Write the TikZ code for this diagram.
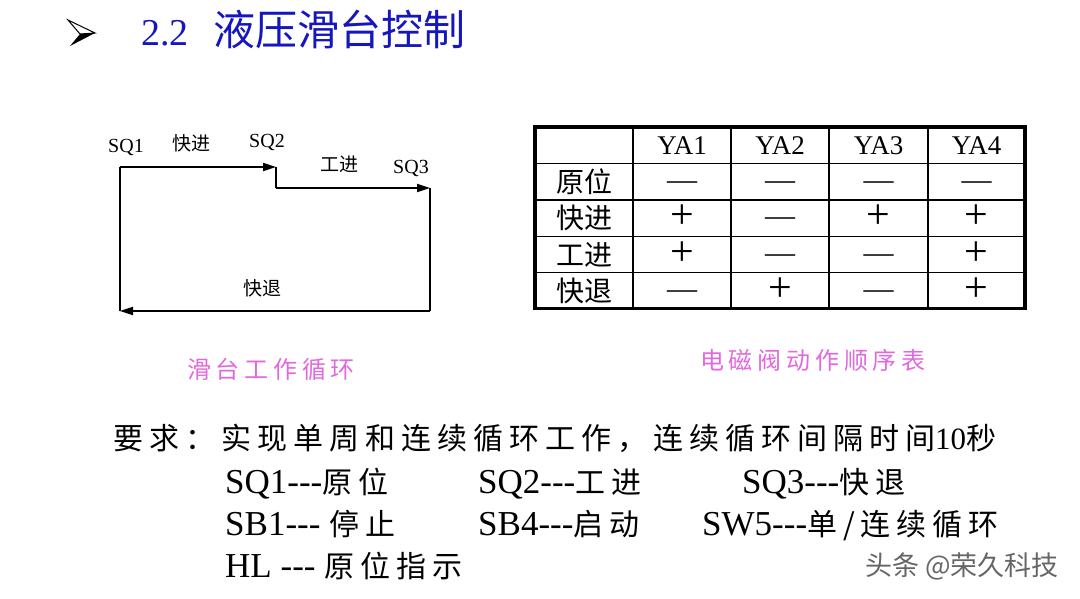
\documentclass[tikz,border=0pt]{standalone}
\usepackage{fontspec}
\usepackage{graphicx}
\setmainfont{Liberation Serif}[Ligatures=TeXOff]
\newfontfamily\cjk{Noto Sans CJK SC}
\newfontfamily\cjkwide[LetterSpace=20]{Noto Sans CJK SC}
\usetikzlibrary{arrows, arrows.meta}
\definecolor{titleblue}{RGB}{22,22,190}
\definecolor{captionpink}{RGB}{226,104,222}
\newcommand{\zh}[1]{{\cjkwide\fontsize{30}{30}\selectfont #1}}
\tikzset{
  txt/.style={inner sep=0pt, anchor=base west},
  cyc/.style={line width=1.8pt},
  cycarrow/.style={line width=1.8pt, -{Triangle[length=13pt, width=8pt]}},
  cell/.style={inner sep=0pt, anchor=base},
  head/.style={cell, font=\fontsize{27}{27}\selectfont, yshift=-9pt},
  rowhead/.style={cell, font=\cjk\fontsize{28}{28}\selectfont, yshift=-10.5pt},
  onsign/.style={cell, font=\fontsize{30}{30}\selectfont, yshift=-10.6pt},
  offsign/.style={cell, font=\fontsize{30}{30}\selectfont, yshift=-7.5pt},
  req/.style={txt, font=\fontsize{35}{35}\selectfont}
}

\begin{document}
\begin{tikzpicture}[x=1pt, y=-1pt]
      \useasboundingbox (0,0) rectangle (1080,598);

      % title
      \filldraw[fill=white, line width=1pt] (68,20) -- (95,33) -- (80,34) -- cycle;
      \fill (80,34) -- (95,33) -- (70,46) -- cycle;
      \node[txt, text=titleblue, font=\fontsize{38}{38}\selectfont] (title) at (141,45) {2.2\hspace{25pt}{\cjk\fontsize{42}{42}\selectfont 液压滑台控制}};

      % work cycle
      \coordinate (p1) at (120,167);
      \coordinate (p2) at (276,167);
      \coordinate (p3) at (276,188);
      \coordinate (p4) at (430,188);
      \coordinate (p5) at (430,311);
      \coordinate (p6) at (120,311);
      \draw[cycarrow] (p1) -- (p2);
      \draw[cyc] (p2) -- (p3);
      \draw[cycarrow] (p3) -- (p4);
      \draw[cyc] (p4) -- (p5);
      \draw[cycarrow] (p5) -- (p6);
      \draw[cyc, line width=2.6pt] (p6) -- (p1);

      \node[txt, font=\fontsize{20}{20}\selectfont] (sq1) at (108,152) {SQ1};
      \node[txt, font=\cjk\fontsize{19}{19}\selectfont] (kj) at (172,150) {快进};
      \node[txt, font=\fontsize{20}{20}\selectfont] (sq2) at (249,147) {SQ2};
      \node[txt, font=\cjk\fontsize{19}{19}\selectfont] (gj) at (320,171) {工进};
      \node[txt, font=\fontsize{20}{20}\selectfont] (sq3) at (393,173) {SQ3};
      \node[txt, font=\cjk\fontsize{19}{19}\selectfont] (kt) at (243,295) {快退};

      % valve table
      \draw[line width=3.2pt] (535,127) rectangle (1025,308.5);
      \draw[line width=1.8pt] (535,163.5) -- (1025,163.5);
      \draw[line width=1.8pt] (535,200) -- (1025,200);
      \draw[line width=1.8pt] (535,236.5) -- (1025,236.5);
      \draw[line width=1.8pt] (535,272.5) -- (1025,272.5);
      \draw[line width=1.8pt] (633,127) -- (633,308.5);
      \draw[line width=1.8pt] (731,127) -- (731,308.5);
      \draw[line width=1.8pt] (829,127) -- (829,308.5);
      \draw[line width=1.8pt] (928,127) -- (928,308.5);

      \node[head] (ya1) at (682,145) {YA1};
      \node[head] (ya2) at (780,145) {YA2};
      \node[head] (ya3) at (878.5,145) {YA3};
      \node[head] (ya4) at (976.5,145) {YA4};

      \node[rowhead] (yw) at (584,182) {原位};
      \node[offsign] (c11) at (682,182) {—};
      \node[offsign] (c12) at (780,182) {—};
      \node[offsign] (c13) at (878.5,182) {—};
      \node[offsign] (c14) at (976.5,182) {—};

      \node[rowhead] (kjrow) at (584,218) {快进};
      \node[onsign] (c21) at (682,218) {\scalebox{1.4}{+}};
      \node[offsign] (c22) at (780,218) {—};
      \node[onsign] (c23) at (878.5,218) {\scalebox{1.4}{+}};
      \node[onsign] (c24) at (976.5,218) {\scalebox{1.4}{+}};

      \node[rowhead] (gjrow) at (584,254.5) {工进};
      \node[onsign] (c31) at (682,254.5) {\scalebox{1.4}{+}};
      \node[offsign] (c32) at (780,254.5) {—};
      \node[offsign] (c33) at (878.5,254.5) {—};
      \node[onsign] (c34) at (976.5,254.5) {\scalebox{1.4}{+}};

      \node[rowhead] (ktrow) at (584,290.5) {快退};
      \node[offsign] (c41) at (682,290.5) {—};
      \node[onsign] (c42) at (780,290.5) {\scalebox{1.4}{+}};
      \node[offsign] (c43) at (878.5,290.5) {—};
      \node[onsign] (c44) at (976.5,290.5) {\scalebox{1.4}{+}};

      % captions
      \node[font=\cjkwide\fontsize{24}{24}\selectfont, text=captionpink] (cap1) at (271,369.5) {滑台工作循环};
      \node[font=\cjkwide\fontsize{24}{24}\selectfont, text=captionpink] (cap2) at (813,360) {电磁阀动作顺序表};

      % requirements
      \node[txt, font=\fontsize{31}{31}\selectfont] (need) at (113,449) {\zh{要求：实现单周和连续循环工作，连续循环间隔时间}10\zh{秒}};
      \node[req] (l1) at (225,493) {SQ1---\zh{原位}};
      \node[req] (l2) at (478,493) {SQ2---\zh{工进}};
      \node[req] (l3) at (742,493) {SQ3---\zh{快退}};
      \node[req] (l4) at (225,535) {SB1--- \zh{停止}};
      \node[req] (l5) at (478,535) {SB4---\zh{启动}};
      \node[req] (l6) at (702,535) {SW5---\zh{单/连续循环}};
      \node[req] (l7) at (225,577) {HL --- \zh{原位指示}};

      \node[txt, font=\cjk\fontsize{27}{27}\selectfont, text=black!60] (mark) at (865,575) {头条 @荣久科技};
\end{tikzpicture}
\end{document}
